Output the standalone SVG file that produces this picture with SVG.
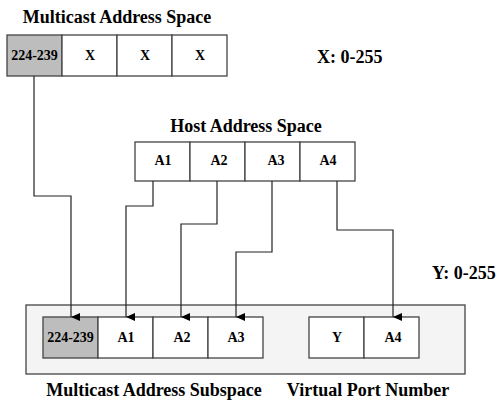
<svg xmlns="http://www.w3.org/2000/svg" width="499" height="400" viewBox="0 0 499 400">
<style>
text{font-family:"Liberation Serif","Times New Roman",serif;font-weight:bold;fill:#000}
.t{font-size:18px}
.c{font-size:14px;text-anchor:middle}
.cell{fill:#fff;stroke:#444;stroke-width:1.3}
.gray{fill:#bdbdbd}
.outer{fill:#f4f4f4;stroke:#444;stroke-width:1.3}
.con{fill:none;stroke:#222;stroke-width:1.2}
</style>
<defs>
<marker id="arr" markerWidth="8" markerHeight="9" refX="4" refY="9" orient="auto" markerUnits="userSpaceOnUse" viewBox="0 0 8 9">
<path d="M0,0 L8,0 L4,9 Z" fill="#000"/>
</marker>
</defs>

<g id="multicast-space">
<text class="t" x="117" y="23" text-anchor="middle">Multicast Address Space</text>
<rect class="cell gray" x="7" y="35" width="55" height="41"/>
<rect class="cell" x="62" y="35" width="55" height="41"/>
<rect class="cell" x="117" y="35" width="55" height="41"/>
<rect class="cell" x="172" y="35" width="55" height="41"/>
<text class="c" x="34.5" y="60">224-239</text>
<text class="c" x="90" y="60">X</text>
<text class="c" x="145" y="60">X</text>
<text class="c" x="200" y="60">X</text>
</g>

<g id="x-range"><text class="t" x="317" y="63">X: 0-255</text></g>

<g id="host-space">
<text class="t" x="246" y="132" text-anchor="middle">Host Address Space</text>
<rect class="cell" x="135" y="142" width="55" height="39"/>
<rect class="cell" x="190" y="142" width="55" height="39"/>
<rect class="cell" x="245" y="142" width="55" height="39"/>
<rect class="cell" x="300" y="142" width="55" height="39"/>
<text class="c" x="163" y="165">A1</text>
<text class="c" x="219" y="165">A2</text>
<text class="c" x="276" y="165">A3</text>
<text class="c" x="328" y="165">A4</text>
</g>

<g id="y-range"><text class="t" x="432" y="279">Y: 0-255</text></g>

<g id="subspace">
<rect class="outer" x="26" y="305" width="439" height="69"/>
<rect class="cell gray" x="43" y="317" width="55" height="41"/>
<rect class="cell" x="98" y="317" width="55" height="41"/>
<rect class="cell" x="153" y="317" width="55" height="41"/>
<rect class="cell" x="208" y="317" width="55" height="41"/>
<rect class="cell" x="309" y="317" width="55" height="41"/>
<rect class="cell" x="364" y="317" width="55" height="41"/>
<text class="c" x="70.5" y="342">224-239</text>
<text class="c" x="126" y="342">A1</text>
<text class="c" x="182" y="342">A2</text>
<text class="c" x="236" y="342">A3</text>
<text class="c" x="337" y="342">Y</text>
<text class="c" x="393" y="342">A4</text>
<text class="t" x="154" y="396" text-anchor="middle">Multicast Address Subspace</text>
<text class="t" x="368" y="396" text-anchor="middle">Virtual Port Number</text>
</g>

<g id="connectors">
<path class="con" d="M34,76 V196 H71 V317" marker-end="url(#arr)"/>
<path class="con" d="M153,181 V206 H126 V317" marker-end="url(#arr)"/>
<path class="con" d="M217,181 V224 H181 V317" marker-end="url(#arr)"/>
<path class="con" d="M272,181 V252 H236 V317" marker-end="url(#arr)"/>
<path class="con" d="M337,181 V230 H393 V317" marker-end="url(#arr)"/>
</g>
</svg>
